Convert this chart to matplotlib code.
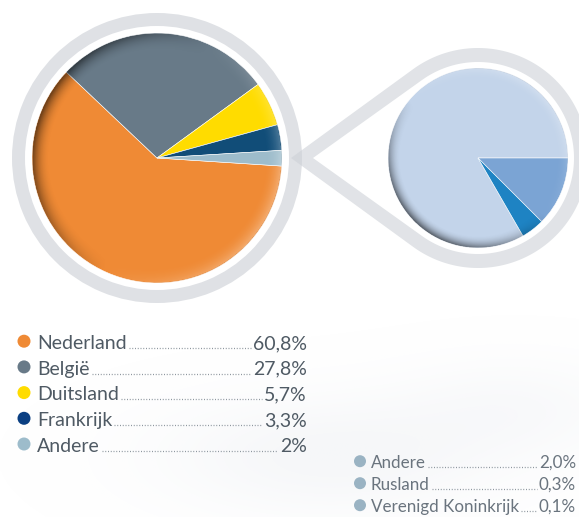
import numpy as np
import matplotlib
matplotlib.use("Agg")
import matplotlib.pyplot as plt
from matplotlib.patches import Wedge, Circle, PathPatch
from matplotlib.path import Path

# data
main_labels = ["Nederland", "België", "Duitsland", "Frankrijk", "Andere"]
main_values = [60.8, 27.8, 5.7, 3.3, 2.0]
main_text = ["60,8%", "27,8%", "5,7%", "3,3%", "2%"]
main_colors = ["#ef8a35", "#687a88", "#ffdc00", "#114d78", "#9dbccb"]
main_dots = ["#ef8a35", "#687a88", "#ffdc00", "#0a3f82", "#9dbccb"]

sub_labels = ["Andere", "Rusland", "Verenigd Koninkrijk"]
sub_values = [2.0, 0.3, 0.1]
sub_text = ["2,0%", "0,3%", "0,1%"]
sub_colors = ["#c3d4ea", "#7ba4d4", "#1e83c3"]

W, H = 579, 517
fig = plt.figure(figsize=(W / 100, H / 100), dpi=100)
ax = fig.add_axes([0, 0, 1, 1])

def py(y):  # pixel row -> data y
    return H - y

RING = "#dfe1e5"

# faint cloudy background behind the legends
n = 300
gx, gy = np.meshgrid(np.linspace(0, W, n), np.linspace(0, H, n))
fog = (np.exp(-(((gx - 330) / 170) ** 2 + ((gy - 60) / 60) ** 2))
       + 0.6 * np.exp(-(((gx - 520) / 120) ** 2 + ((gy - 110) / 50) ** 2)))
bg = np.ones((n, n, 4))
bg[..., :3] = [0.80, 0.83, 0.87]
bg[..., 3] = 0.18 * np.clip(fog, 0, 1)
ax.imshow(bg, extent=[0, W, 0, H], origin="lower", zorder=0, interpolation="bilinear")

# teardrop around the small pie
c2 = (478, py(158))
def teardrop(R, tipx):
    d = c2[0] - tipx
    a = np.degrees(np.arccos(R / d))
    ang = np.radians(np.linspace(180 - a, -(180 - a), 200))
    xs = np.r_[tipx, c2[0] + R * np.cos(ang), tipx]
    ys = np.r_[c2[1], c2[1] + R * np.sin(ang), c2[1]]
    return xs, ys

ox, oy = teardrop(110, 291)
ix, iy = teardrop(96, 313)
verts = np.r_[np.c_[ox, oy], np.c_[ix[::-1], iy[::-1]]]
codes = ([Path.MOVETO] + [Path.LINETO] * (len(ox) - 2) + [Path.CLOSEPOLY]) * 2
ax.add_patch(PathPatch(Path(verts, codes), facecolor="#cdd1d7", edgecolor="none",
                       alpha=0.6, zorder=2))

# ring around the main pie
c1 = (157, py(158))
ax.add_patch(Wedge(c1, 145, 0, 360, width=13, facecolor=RING, edgecolor="none", zorder=1))

# pies
ax.pie(main_values, colors=main_colors, center=c1, radius=125, startangle=-3.7,
       counterclock=False, wedgeprops=dict(edgecolor="white", linewidth=0.4),
       frame=True)
ax.pie(sub_values, colors=sub_colors, center=c2, radius=90, startangle=300,
       counterclock=False, wedgeprops=dict(edgecolor="white", linewidth=0.4),
       frame=True)

def shade(c, r, light_deg, dark=0.55, light=0.3):
    n = 400
    g = np.linspace(-1, 1, n)
    X, Y = np.meshgrid(g, g)
    rr = np.hypot(X, Y)
    th = np.arctan2(Y, X)
    edge = np.clip((rr - 0.86) / 0.14, 0, 1) ** 2
    s = np.cos(th - np.radians(light_deg))
    img = np.zeros((n, n, 4))
    img[..., :3] = np.where(s[..., None] > 0, 1.0, 0.0)
    img[..., 3] = np.where(s > 0, edge * s * light, edge * (-s) * dark)
    img[rr > 1] = 0
    im = ax.imshow(img, extent=[c[0] - r, c[0] + r, c[1] - r, c[1] + r],
                   origin="lower", zorder=3, interpolation="bilinear")
    im.set_clip_path(Circle(c, r, transform=ax.transData))

shade(c1, 125, -25, dark=0.6)
shade(c2, 90, 50, dark=0.6, light=0.25)

ax.set_xlim(0, W)
ax.set_ylim(0, H)
ax.set_aspect("auto")
ax.axis("off")

renderer = fig.canvas.get_renderer()

def legend(labels, values, dots, x_dot, x_txt, x_val, base0, step, size, dot_r, color):
    for i, (lab, val, col) in enumerate(zip(labels, values, dots)):
        yb = py(base0 + i * step)
        ax.add_patch(Circle((x_dot, yb + size * 0.4), dot_r, facecolor=col,
                            edgecolor="none", zorder=4))
        t1 = ax.text(x_txt, yb, lab, fontsize=size / 1.39, color=color, va="baseline",
                     ha="left", family="Lato", zorder=4)
        t2 = ax.text(x_val, yb, val, fontsize=size / 1.39, color=color, va="baseline",
                     ha="right", family="Lato", zorder=4)
        x0 = t1.get_window_extent(renderer).x1 + 2
        x1 = t2.get_window_extent(renderer).x0 - 2
        ax.plot([x0, x1], [yb + 1, yb + 1], color="#8d969e", lw=0.9,
                linestyle=(0, (0.8, 1.4)), zorder=4)

legend(main_labels, main_text, main_dots, 24, 37, 307, 349, 25.7, 19.5, 6.5, "#4f5a64")
legend(sub_labels, sub_text, ["#9ab3c3"] * 3, 360, 371, 576, 468, 22, 17, 6, "#6a747e")

fig.savefig("out.png", dpi=100, facecolor="white")
